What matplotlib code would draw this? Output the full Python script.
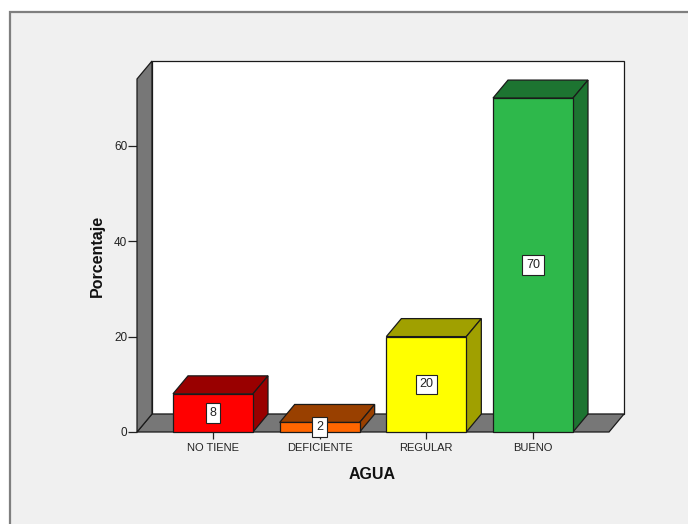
import matplotlib
matplotlib.use("Agg")
import matplotlib.pyplot as plt
from matplotlib.patches import Polygon, Rectangle

plt.rcParams['font.family'] = ['Liberation Sans', 'DejaVu Sans']

# Data
categories = ["NO TIENE", "DEFICIENTE", "REGULAR", "BUENO"]
values = [8, 2, 20, 70]
y_ticks = [0, 20, 40, 60]

# Styling
front_colors = ["#ff0000", "#ff6600", "#ffff00", "#2eb84b"]
shade_colors = ["#990000", "#994000", "#a0a000", "#1d7431"]
wall_color = "#777777"
edge_color = "#1a1a1a"
bar_width = 0.75
x_lo, x_hi = -0.7125, 3.7125     # front plane extent in category units
y_top = 74.0                      # height of the side wall in value units
DX, DY = 0.1406, 3.77             # depth offset of the 3D box

W, H = 688, 524
fig = plt.figure(figsize=(W / 100, H / 100), dpi=100)
fig.patch.set_facecolor("white")

# Outer panel with grey frame
fig.patches.append(Rectangle((9.5 / W, -0.2), 1.2, 1 - 12.5 / H + 0.2,
                             transform=fig.transFigure, facecolor="#f0f0f0",
                             edgecolor="#7f7f7f", linewidth=1.6, zorder=-5))

ax = fig.add_axes([137 / W, (H - 432) / H, 487 / W, 371 / H])
ax.set_zorder(2)
ax.set_xlim(x_lo, x_hi + DX)
ax.set_ylim(0, y_top + DY)
ax.patch.set_alpha(0)
for s in ax.spines.values():
    s.set_visible(False)

lw = 0.9
# Back wall
ax.add_patch(Rectangle((x_lo + DX, DY), x_hi - x_lo, y_top, facecolor="white",
                       edgecolor=edge_color, linewidth=lw, zorder=1, clip_on=False))
# Floor
ax.add_patch(Polygon([(x_lo, 0), (x_hi, 0), (x_hi + DX, DY), (x_lo + DX, DY)],
                     closed=True, facecolor=wall_color, edgecolor=edge_color,
                     linewidth=lw, zorder=2, clip_on=False))
# Side wall
ax.add_patch(Polygon([(x_lo, 0), (x_lo, y_top), (x_lo + DX, y_top + DY), (x_lo + DX, DY)],
                     closed=True, facecolor=wall_color, edgecolor=edge_color,
                     linewidth=lw, zorder=2, clip_on=False))

xs = list(range(len(categories)))
bars = ax.bar(xs, values, width=bar_width, color=front_colors,
              edgecolor=edge_color, linewidth=lw, zorder=4)
for b, v, sc in zip(bars, values, shade_colors):
    b.set_clip_on(False)
    xl = b.get_x()
    xr = xl + b.get_width()
    ax.add_patch(Polygon([(xl, v), (xr, v), (xr + DX, v + DY), (xl + DX, v + DY)],
                         closed=True, facecolor=sc, edgecolor=edge_color,
                         linewidth=lw, zorder=3, clip_on=False))
    ax.add_patch(Polygon([(xr, 0), (xr, v), (xr + DX, v + DY), (xr + DX, DY)],
                         closed=True, facecolor=sc, edgecolor=edge_color,
                         linewidth=lw, zorder=3, clip_on=False))
    ax.text(b.get_x() + b.get_width() / 2, v / 2, f"{v}", ha="center", va="center",
            fontsize=9, color="#222222", zorder=6,
            bbox=dict(boxstyle="square,pad=0.3", facecolor="white",
                      edgecolor="#222222", linewidth=0.8))

ax.set_xticks(xs)
ax.set_xticklabels(categories)
ax.set_yticks(y_ticks)
ax.set_yticklabels([str(t) for t in y_ticks])
ax.tick_params(axis="x", direction="out", length=5, width=0.9, pad=3,
               labelsize=8, colors="#222222")
ax.tick_params(axis="y", direction="out", length=6.5, width=0.9, pad=0.5,
               labelsize=8.5, colors="#222222")

fig.text(97 / W, 1 - 256 / H, "Porcentaje", rotation=90, ha="center", va="center",
         fontsize=11.5, fontweight="bold", color="#111111")
fig.text(372.5 / W, 1 - 474.5 / H, "AGUA", ha="center", va="center",
         fontsize=11.5, fontweight="bold", color="#111111")

fig.savefig("out.png", dpi=100, facecolor=fig.get_facecolor())
